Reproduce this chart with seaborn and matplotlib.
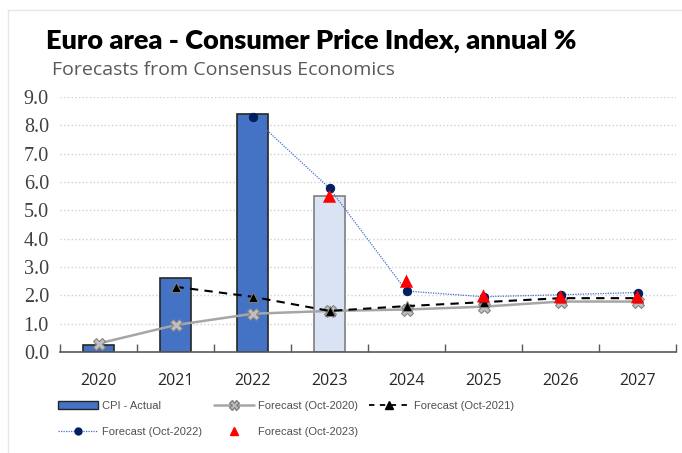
import numpy as np
import pandas as pd
import matplotlib
matplotlib.use("Agg")
import matplotlib.pyplot as plt
from matplotlib.lines import Line2D
from matplotlib.patches import Patch
import seaborn as sns

sns.set_theme(style="white")
plt.rcParams['font.family'] = ['DejaVu Sans']

# data
years = ['2020', '2021', '2022', '2023', '2024', '2025', '2026', '2027']
cpi_actual = [0.25, 2.6, 8.4, 5.5, np.nan, np.nan, np.nan, np.nan]
fc_oct2020 = [0.3, 0.95, 1.35, 1.45, 1.5, 1.6, 1.78, 1.78]
fc_oct2021 = [np.nan, 2.3, 1.95, 1.45, 1.62, 1.76, 1.9, 1.9]
fc_oct2022 = [np.nan, np.nan, 8.3, 5.78, 2.15, 1.95, 2.02, 2.1]
fc_oct2023 = [np.nan, np.nan, np.nan, 5.5, 2.5, 1.98, 1.95, 1.95]

BAR_BLUE = '#4472c4'
BAR_LIGHT = '#dae3f3'

fig = plt.figure(figsize=(6.82, 4.53), dpi=100)
ax = fig.add_axes([60 / 682, 1 - 352 / 453, 616 / 682, 255 / 453])

df = pd.DataFrame({'year': years, 'cpi': cpi_actual})
bar_colors = [BAR_BLUE, BAR_BLUE, BAR_BLUE, BAR_LIGHT] + [BAR_BLUE] * 4
sns.barplot(data=df, x='year', y='cpi', hue='year', palette=bar_colors,
            legend=False, width=0.4, saturation=1, ax=ax, zorder=2)
for i, p in enumerate(ax.patches):
    p.set_edgecolor('#262626' if i < 3 else '#7f7f7f')
    p.set_linewidth(1.2)

pos = np.arange(len(years))
sns.lineplot(x=pos, y=fc_oct2020, ax=ax, color='#a6a6a6', lw=1.8,
             marker='X', markersize=8, markerfacecolor='#bfbfbf',
             markeredgecolor='#808080', zorder=3)
sns.lineplot(x=pos, y=fc_oct2021, ax=ax, color='black', lw=1.5,
             linestyle=(0, (4, 3)), marker='^', markersize=7,
             markerfacecolor='black', markeredgecolor='#7f7f7f', zorder=4)
sns.lineplot(x=pos, y=fc_oct2022, ax=ax, color='#4472c4', lw=0.9,
             linestyle=(0, (1, 1)), marker='o', markersize=6,
             markerfacecolor='#002060', markeredgecolor='#002060', zorder=5)
sns.scatterplot(x=pos, y=fc_oct2023, ax=ax, color='#ff0000', marker='^',
                s=90, edgecolor='none', zorder=6)

ax.set_xlim(-0.5, 7.5)
ax.set_ylim(0, 9)
ax.set_yticks(np.arange(0, 9.5, 1.0))
ax.set_yticklabels([f"{v:.1f}" for v in np.arange(0, 9.5, 1.0)],
                   family='Liberation Serif', fontsize=14.5, color='#404040')
ax.set_xticks(pos)
ax.set_xticklabels(years, family='Open Sans', fontsize=11.5, color='#262626')
ax.set_xticks(np.arange(-0.5, 8, 1.0), minor=True)
ax.tick_params(axis='x', which='major', length=0, pad=15)
ax.tick_params(axis='x', which='minor', direction='in', length=6,
               width=1, color='#595959', bottom=True)
ax.tick_params(axis='y', length=0, pad=8)
ax.set_xlabel('')
ax.set_ylabel('')
ax.grid(axis='y', color='#d0d0d0', linestyle=':', lw=1, zorder=0)
ax.set_axisbelow(True)
for s in ['top', 'right', 'left']:
    ax.spines[s].set_visible(False)
ax.spines['bottom'].set_color('#595959')
ax.spines['bottom'].set_linewidth(1.2)

# titles
fig.text(46 / 682, 1 - 41 / 453, 'Euro area - Consumer Price Index, annual %',
         family='Lato', fontweight='heavy', fontsize=19.5, color='black',
         va='center', ha='left')
fig.text(52 / 682, 1 - 70 / 453, 'Forecasts from Consensus Economics',
         family='Open Sans', fontsize=14, color='#595959',
         va='center', ha='left')

# figure border
fig.add_artist(Line2D([8 / 682, 8 / 682], [0, 1 - 10 / 453], color='#e6e6e6', lw=1))
fig.add_artist(Line2D([8 / 682, 1], [1 - 10 / 453, 1 - 10 / 453], color='#e6e6e6', lw=1))

# legend
h_cpi = Patch(facecolor=BAR_BLUE, edgecolor='#262626', label='CPI - Actual')
h20 = Line2D([], [], color='#a6a6a6', lw=1.8, marker='X', markersize=7,
             markerfacecolor='#bfbfbf', markeredgecolor='#808080',
             label='Forecast (Oct-2020)')
h21 = Line2D([], [], color='black', lw=1.3, linestyle=(0, (3, 3)), marker='^',
             markersize=6, markerfacecolor='black', label='Forecast (Oct-2021)')
h22 = Line2D([], [], color='#4472c4', lw=0.9, linestyle=(0, (1, 1)), marker='o',
             markersize=5, markerfacecolor='#002060', markeredgecolor='#002060',
             label='Forecast (Oct-2022)')
h23 = Line2D([], [], color='#ff0000', lw=0, marker='^', markersize=6,
             label='Forecast (Oct-2023)')
handles = [h_cpi, h22, h20, h23, h21]
leg = fig.legend(handles=handles, ncol=3, loc='upper left',
                 bbox_to_anchor=(48 / 682, 1 - 391 / 453), frameon=False,
                 prop={'family': 'Liberation Sans', 'size': 8},
                 handlelength=3.6, handletextpad=0.4, columnspacing=1.0,
                 labelspacing=1.45)
for t in leg.get_texts():
    t.set_color('#505050')

fig.savefig('out.png', dpi=100)
